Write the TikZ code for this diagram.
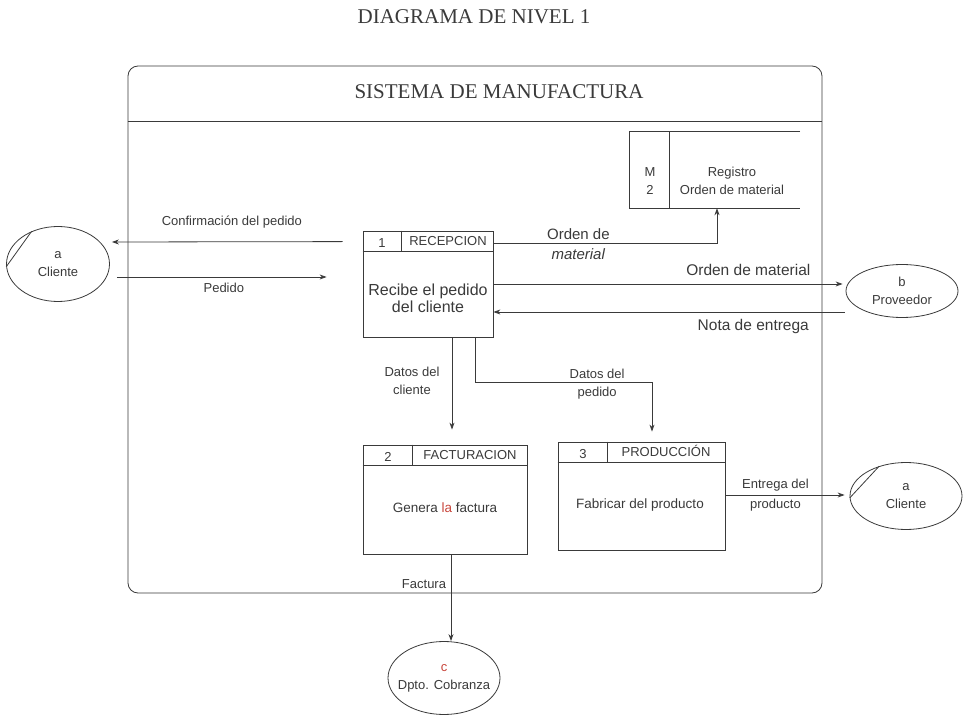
\documentclass[tikz,border=0pt]{standalone}
\usepackage{fontspec}
\setmainfont{Liberation Serif}
\setsansfont{Liberation Sans}
\usetikzlibrary{shapes,arrows,arrows.meta,calc}
\definecolor{ink}{HTML}{3A3A3A}
\definecolor{rojo}{HTML}{C8463C}

\begin{document}
\begin{tikzpicture}[
  x=1pt, y=-1pt,
  proc/.style={rectangle, draw=ink, line width=0.8pt, inner sep=0pt},
  ext/.style={ellipse, draw=ink, line width=0.8pt, inner sep=0pt},
  lbl/.style={font=\sffamily\fontsize{13}{18}\selectfont, text=ink, align=center, inner sep=0pt},
  big/.style={lbl, font=\sffamily\fontsize{15.5}{20}\selectfont},
  body/.style={lbl, font=\sffamily\fontsize{13.5}{17}\selectfont},
  head/.style={font=\rmfamily\fontsize{21}{24}\selectfont, text=ink, inner sep=0pt},
  edge/.style={draw=ink, line width=0.8pt},
  flow/.style={->, draw=ink, line width=0.8pt},
  >={Stealth[length=7pt,width=5pt]}
]
\useasboundingbox (0,0) rectangle (978,719);

% titulos y frontera del sistema
\node[head] (titulo) at (474,17) {DIAGRAMA DE NIVEL 1};
\node[draw=ink, line width=0.8pt, rounded corners=10pt, minimum width=694pt, minimum height=527pt, inner sep=0pt] (sistema) at (475,329.5) {};
\draw[edge] ($(sistema.north west)+(0,56)$) -- ($(sistema.north east)+(0,56)$);
\node[head] (nombre) at (499,92) {SISTEMA DE MANUFACTURA};

% procesos
\node[proc, minimum width=130pt, minimum height=106pt] (p1) at (428,284) {};
\draw[edge] ($(p1.north west)+(0,21)$) -- ($(p1.north east)+(0,21)$)
  ($(p1.north west)+(39,0)$) -- ($(p1.north west)+(39,21)$);
\node[lbl] (p1num) at (382,243) {1};
\node[lbl] (p1tit) at (448,241) {RECEPCION};
\node[body, font=\sffamily\fontsize{16}{17}\selectfont] (p1txt) at (428,298) {Recibe el pedido\\del cliente};

\node[proc, minimum width=164pt, minimum height=109pt] (p2) at (445,499.5) {};
\draw[edge] ($(p2.north west)+(0,21)$) -- ($(p2.north east)+(0,21)$)
  ($(p2.north west)+(50,0)$) -- ($(p2.north west)+(50,21)$);
\node[lbl] (p2num) at (388,457) {2};
\node[lbl] (p2tit) at (470,455) {FACTURACION};
\node[body] (p2txt) at (445,508) {Genera {\color{rojo}la} factura};

\node[proc, minimum width=167pt, minimum height=108pt] (p3) at (641.5,496) {};
\draw[edge] ($(p3.north west)+(0,21)$) -- ($(p3.north east)+(0,21)$)
  ($(p3.north west)+(50,0)$) -- ($(p3.north west)+(50,21)$);
\node[lbl] (p3num) at (583,454) {3};
\node[lbl] (p3tit) at (666,451) {PRODUCCIÓN};
\node[body] (p3txt) at (640,505) {Fabricar del producto};

% almacen
\node[minimum width=170pt, minimum height=76pt, inner sep=0pt] (store) at (715,170) {};
\draw[edge] (store.north east) -- (store.north west) -- (store.south west) -- (store.south east)
  ($(store.north west)+(40,0)$) -- ($(store.south west)+(40,0)$);
\node[lbl] (storeid) at (650,181) {M\\2};
\node[lbl] (storenom) at (732,181) {Registro\\Orden de material};

% entidades externas
\node[ext, minimum width=103pt, minimum height=75pt, label={[lbl]center:a\\Cliente}] (cliA) at (58,264) {};
\draw[edge] (cliA.129) -- (cliA.183);
\node[ext, minimum width=112pt, minimum height=53pt, label={[lbl]center:b\\Proveedor}] (prov) at (902,291) {};
\node[ext, minimum width=112pt, minimum height=67pt, label={[lbl]center:a\\Cliente}] (cliB) at (906,496) {};
\draw[edge] (cliB.132) -- (cliB.182);
\node[ext, minimum width=112pt, minimum height=73pt, label={[lbl]center:{\color{rojo}c}\\Dpto. Cobranza}] (dpto) at (444,678) {};

% flujos
\draw[flow] ($(p1.north west)+(-20,11)$) -- ($(cliA.east)+(2,-22)$)
  node[lbl, pos=0.48, yshift=20pt] (fconf) {Confirmación del pedido};
\draw[flow] ($(cliA.east)+(7,13)$) -- ($(p1.west)+(-36,-7)$)
  node[lbl, pos=0.51, yshift=-11pt] (fped) {Pedido};
\draw[flow] ($(p1.north east)+(0,13)$) -| ($(store.south)+(2,0)$)
  node[lbl, pos=0.19, yshift=-1pt, font=\sffamily\fontsize{15}{20}\selectfont] (fom) {Orden de\\\textit{material}};
\draw[flow] (p1.east) -- ($(prov.west)+(-3,-7)$)
  node[big, pos=0.73, yshift=14pt] (fomp) {Orden de material};
\draw[flow] ($(prov.west)+(-1,21)$) -- ($(p1.east)+(0,28)$)
  node[big, pos=0.26, yshift=-14pt] (fnota) {Nota de entrega};
\draw[flow] ($(p1.south)+(24,0)$) -- ($(p2.north)+(7,-15)$)
  node[lbl, pos=0.47, xshift=-40pt] (fdc) {Datos del\\cliente};
\draw[flow] ($(p1.south)+(47,0)$) -- ++(0,45) -| ($(p3.north)+(10.5,-10)$)
  node[lbl, pos=0.345, yshift=-2pt] (fdp) {Datos del\\pedido};
\draw[flow] ($(p3.east)+(0,-1)$) -- ($(cliB.west)+(-5,-1)$)
  node[lbl, pos=0.42, yshift=0pt, font=\sffamily\fontsize{13}{20}\selectfont] (fent) {Entrega del\\producto};
\draw[flow] ($(p2.south)+(6,0)$) -- ($(dpto.north)+(7,0)$)
  node[lbl, pos=0.34, xshift=-27pt] (ffac) {Factura};

\end{tikzpicture}
\end{document}
